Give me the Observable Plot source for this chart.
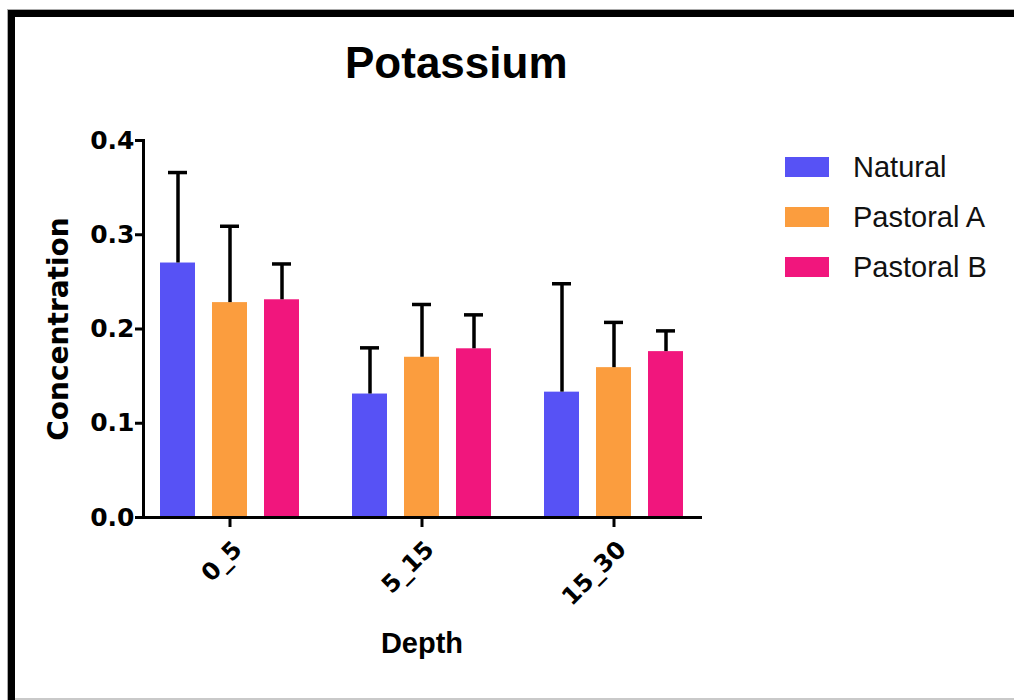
<!DOCTYPE html>
<html>
<head>
<meta charset="utf-8">
<script src="https://cdn.jsdelivr.net/npm/d3@7"></script>
<script src="https://cdn.jsdelivr.net/npm/@observablehq/plot@0.6"></script>
<style>
  html, body { margin: 0; padding: 0; background: #fff; overflow: hidden; }
  #wrap { position: relative; width: 1014px; height: 700px; overflow: hidden; background: #fff; }
  #border { position: absolute; left: 8px; top: 10px; width: 1100px; height: 800px;
            border-top: 7px solid #000; border-left: 7px solid #000; box-shadow: -1px -1px 0 #aaa; }
  #bottomline { position: absolute; left: 15px; top: 698px; width: 1000px; height: 2px; background: #c9c9c9; }
  #chart { position: absolute; left: 0; top: 0; }
  #title { position: absolute; left: 345px; top: 38px; font-family: "Liberation Sans", Arial, sans-serif;
           font-weight: bold; font-size: 44px; color: #000; white-space: nowrap; }
  #legend { position: absolute; left: 785px; top: 142px; font-family: "Liberation Sans", Arial, sans-serif;
            font-size: 29px; color: #111; }
  .lrow { display: flex; align-items: center; height: 50px; }
  .lsw { width: 44px; height: 20px; margin-right: 24px; }
</style>
</head>
<body>
<div id="wrap">
  <div id="border"></div>
  <div id="bottomline"></div>
  <div id="chart"></div>
  <div id="title">Potassium</div>
  <div id="legend"></div>
</div>
<script>
const depths = ["0_5", "5_15", "15_30"];
const series = ["Natural", "Pastoral A", "Pastoral B"];
const naturalMean = [0.270, 0.131, 0.133];
const naturalErr = [0.096, 0.049, 0.115];
const pastoralAMean = [0.228, 0.170, 0.159];
const pastoralAErr = [0.081, 0.056, 0.048];
const pastoralBMean = [0.231, 0.179, 0.176];
const pastoralBErr = [0.038, 0.036, 0.022];
const yTicks = [0, 0.1, 0.2, 0.3, 0.4];
const colors = ["#5752F5", "#FB9D3E", "#F1167D"];

const means = [naturalMean, pastoralAMean, pastoralBMean];
const errs = [naturalErr, pastoralAErr, pastoralBErr];
const rows = [];
depths.forEach((d, i) => series.forEach((s, j) => {
  rows.push({depth: d, series: s, mean: means[j][i], upper: means[j][i] + errs[j][i]});
}));

const chart = Plot.plot({
  width: 1014, height: 700,
  marginLeft: 137, marginRight: 309, marginTop: 140, marginBottom: 183,
  style: {fontFamily: "DejaVu Sans", fontWeight: "bold", color: "#000", background: "transparent", overflow: "visible"},
  fx: {domain: depths, paddingInner: 0.1, paddingOuter: 0.0275, label: null},
  x: {domain: series, paddingInner: 1/3, paddingOuter: 0.317, axis: null},
  y: {domain: [0, 0.4], axis: null},
  color: {domain: series, range: colors},
  marks: [
    Plot.barY(rows, {fx: "depth", x: "series", y: "mean", fill: "series"}),
    Plot.ruleX(rows, {fx: "depth", x: "series", y1: "mean", y2: "upper", stroke: "#000", strokeWidth: 3.5}),
    Plot.tickY(rows, {fx: "depth", x: "series", y: "upper", stroke: "#000", strokeWidth: 3.5, inset: 8}),
    Plot.frame({anchor: "left", facet: "super", stroke: "#000", strokeWidth: 3}),
    Plot.frame({anchor: "bottom", facet: "super", stroke: "#000", strokeWidth: 3}),
    Plot.axisY({ticks: yTicks, tickFormat: d3.format(".1f"), tickSize: 8, tickPadding: 1, fontSize: 25, strokeWidth: 3, label: null}),
    Plot.axisFx({anchor: "bottom", tickSize: 10, tickFormat: () => "", strokeWidth: 3, label: null}),
    Plot.axisFx({anchor: "bottom", tickRotate: -45, tickSize: 0, tickPadding: 28, dx: 8, fontSize: 24, label: null}),
    Plot.text(["Concentration"], {frameAnchor: "left", textAnchor: "middle", rotate: -90, dx: -84, fontSize: 28, facet: "super", fill: "#000"}),
    Plot.text(["Depth"], {frameAnchor: "bottom", dy: 135, fontSize: 29, fontFamily: "Liberation Sans", facet: "super", fill: "#000"})
  ]
});
document.getElementById("chart").appendChild(chart);

const color = chart.scale("color");
const leg = d3.select("#legend");
color.domain.forEach((s, i) => {
  const row = leg.append("div").attr("class", "lrow");
  row.append("div").attr("class", "lsw").style("background", color.range[i]);
  row.append("div").text(s);
});
</script>
</body>
</html>
